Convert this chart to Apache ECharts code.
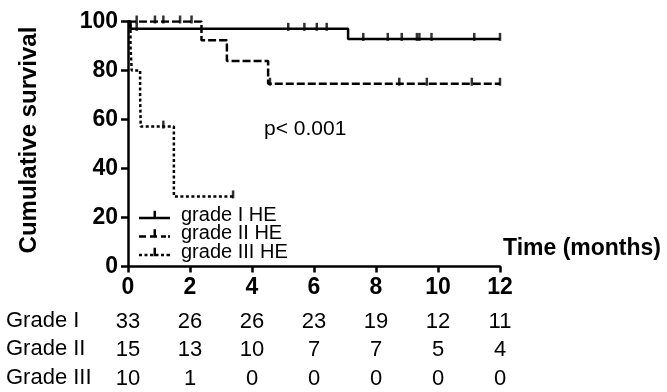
<!DOCTYPE html>
<html><head><meta charset="utf-8">
<script src="https://cdn.jsdelivr.net/npm/echarts@6/dist/echarts.min.js"></script>
<style>html,body{margin:0;padding:0;background:#fff}#c{width:667px;height:392px}</style>
</head><body><div id="c"></div>
<script>
// Kaplan-Meier step curves: [time (months), cumulative survival %]
const grade1Curve = [[0,100],[0.08,97.0],[7.1,92.9],[12,92.9]];
const grade2Curve = [[0,100],[2.37,92.3],[3.19,83.9],[4.52,74.6],[12,74.6]];
const grade3Curve = [[0,100],[0.08,90],[0.12,80],[0.39,70],[0.41,57.1],[1.48,28.6],[3.39,28.6]];
// censored observations
const grade1Censor = [[0.28,97.0],[5.17,97.0],[5.69,97.0],[6.09,97.0],[6.41,97.0],[7.59,92.9],[8.38,92.9],[8.83,92.9],[9.32,92.9],[9.4,92.9],[9.79,92.9],[11.17,92.9],[12,92.9]];
const grade2Censor = [[0.28,100],[0.87,100],[1.14,100],[1.68,100],[2.05,100],[4.58,74.6],[8.75,74.6],[9.64,74.6],[11.09,74.6],[12,74.6]];
const grade3Censor = [[1.14,57.1],[3.39,28.6]];
const seriesNames = ['grade I HE','grade II HE','grade III HE'];
const xTicks = [0,2,4,6,8,10,12];
const yTicks = [0,20,40,60,80,100];
const riskRows = ['Grade I','Grade II','Grade III'];
const riskGrade1 = [33,26,26,23,19,12,11];
const riskGrade2 = [15,13,10,7,7,5,4];
const riskGrade3 = [10,1,0,0,0,0,0];
const pText = 'p< 0.001';
const xTitle = 'Time (months)';
const yTitle = 'Cumulative survival';

const chart = echarts.init(document.getElementById('c'), null, {renderer:'canvas'});
const F = 'Liberation Sans, Arial, sans-serif';
const dashes = ['solid',[8,3],[3,2.5]];
const curves = [grade1Curve, grade2Curve, grade3Curve];
const censors = [grade1Censor, grade2Censor, grade3Censor];
const risks = [riskGrade1, riskGrade2, riskGrade3];
const rowCenters = [320, 348, 377];
const riskOffsets = rowCenters.map(c => c - 275.5);

// legend icons: line pattern with a censor tick, drawn as filled rects in a 31 x 9 box
const legendIcons = [
  'path://M0,6h31v2.5h-31z M14.5,0h2.5v8.5h-2.5z',
  'path://M0,6h7v2.5h-7z M11,6h7v2.5h-7z M22,6h5v2.5h-5z M29,6h2v2.5h-2z M14.5,0h2.5v8.5h-2.5z',
  'path://M0,6h3v2.5h-3z M5.5,6h3v2.5h-3z M11,6h3v2.5h-3z M16.5,6h3v2.5h-3z M22,6h3v2.5h-3z M27.5,6h3.5v2.5h-3.5z M14.5,0h2.5v8.5h-2.5z'
];

const xAxes = [{
  type:'value', min:0, max:12, interval:2, gridIndex:0,
  name:xTitle, nameLocation:'end', nameGap:3,
  nameTextStyle:{fontFamily:F, fontSize:23, fontWeight:'bold', color:'#000', align:'left', verticalAlign:'bottom', padding:[0,0,6,0]},
  axisLine:{lineStyle:{color:'#000', width:2.5}},
  axisTick:{length:6, lineStyle:{color:'#000', width:2.5}},
  axisLabel:{fontFamily:F, fontSize:23, fontWeight:'bold', color:'#000', margin:10, showMinLabel:true, showMaxLabel:true},
  splitLine:{show:false}
}];
risks.forEach((r,i)=>{
  xAxes.push({
    type:'value', min:0, max:12, interval:2, gridIndex:0, position:'bottom', offset:riskOffsets[i],
    axisLine:{show:false}, axisTick:{show:false}, splitLine:{show:false},
    axisLabel:{fontFamily:F, fontSize:22, color:'#000', margin:0, showMinLabel:true, showMaxLabel:true,
      formatter:(v)=>{ const k = xTicks.indexOf(v); return k>=0 ? String(r[k]) : ''; }}
  });
});

const series = [];
curves.forEach((c,i)=>{
  series.push({
    name:seriesNames[i], type:'line', step:'end', data:c, xAxisIndex:0, yAxisIndex:0,
    symbol:'none', showSymbol:false,
    itemStyle:{color:'#000'},
    lineStyle:{color:'#000', width:2.5, type:dashes[i]},
    z:3, animation:false
  });
  series.push({
    name:seriesNames[i], type:'scatter', data:censors[i], xAxisIndex:0, yAxisIndex:0,
    symbol:'rect', symbolSize:[2.5,8], symbolOffset:[0,-2],
    itemStyle:{color:'#000'}, z:4, animation:false
  });
});

chart.setOption({
  backgroundColor:'#fff',
  animation:false,
  grid:{left:128, right:167, top:21.5, bottom:125.5, containLabel:false},
  xAxis:xAxes,
  yAxis:{
    type:'value', min:0, max:100, interval:20,
    name:yTitle, nameLocation:'middle', nameGap:87, nameRotate:90,
    nameTextStyle:{fontFamily:F, fontSize:24, fontWeight:'bold', color:'#000', padding:[0,0,0,8]},
    axisLine:{show:true, lineStyle:{color:'#000', width:2.5}},
    axisTick:{show:true, length:7, lineStyle:{color:'#000', width:2.5}},
    axisLabel:{fontFamily:F, fontSize:23, fontWeight:'bold', color:'#000', margin:10,
      formatter:(v)=> yTicks.indexOf(v)>=0 ? String(v) : ''},
    splitLine:{show:false}
  },
  legend:{
    data:seriesNames.map((n,i)=>({name:n, icon:legendIcons[i]})),
    orient:'vertical', left:134, top:200,
    itemWidth:31, itemHeight:9, itemGap:-1.5,
    itemStyle:{color:'#000'},
    textStyle:{fontFamily:F, fontSize:20, color:'#000', lineHeight:17, padding:[0,0,0,6]}
  },
  graphic:[
    {type:'text', left:264, top:119, style:{text:pText, font:'21px '+F, fill:'#000'}}
  ].concat(riskRows.map((t,i)=>({
    type:'text', x:6, y:rowCenters[i]+1, style:{text:t, font:'22px '+F, fill:'#000', verticalAlign:'middle'}
  }))),
  series:series
});
</script></body></html>
